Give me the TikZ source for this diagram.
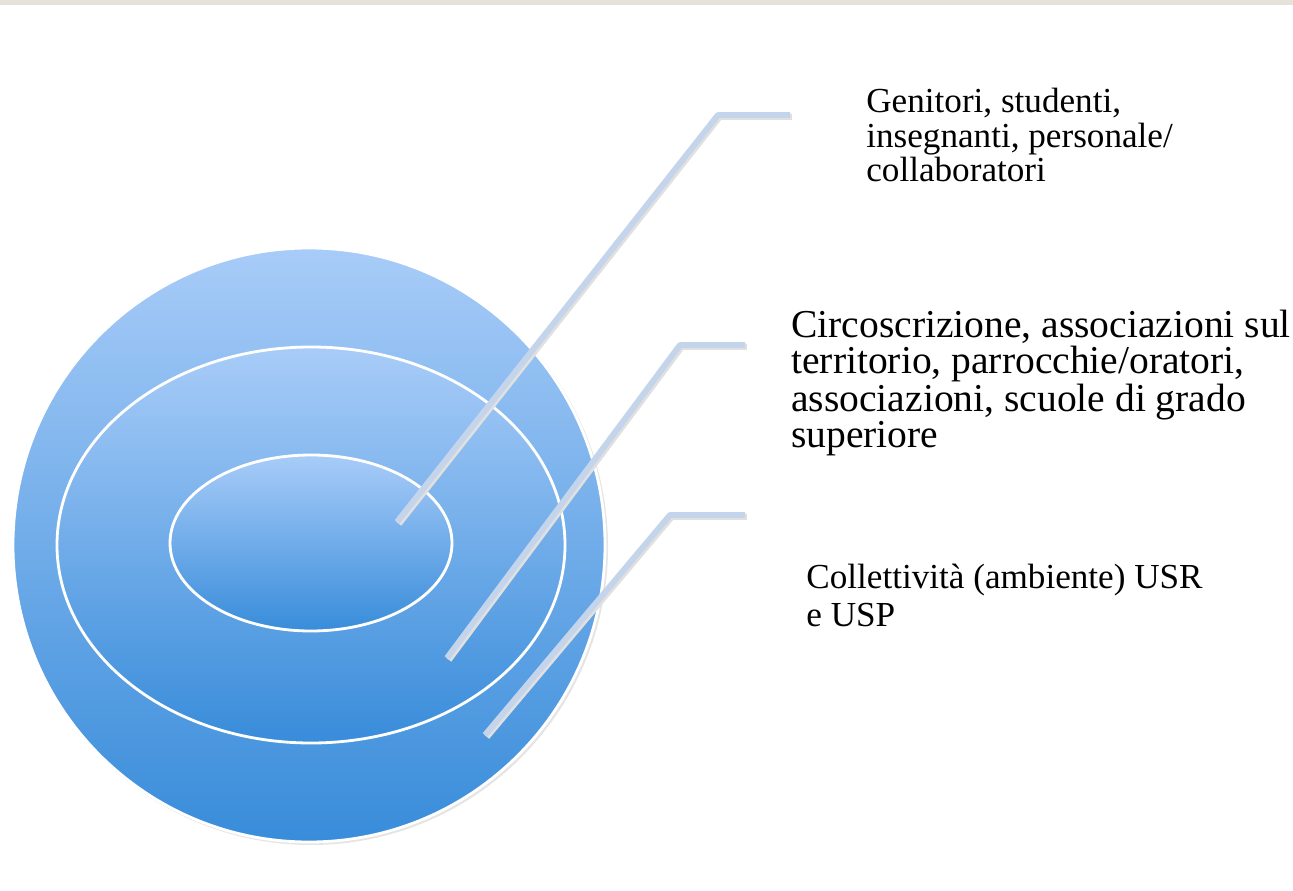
\documentclass[tikz,border=0pt]{standalone}
\usepackage{fontspec}
\setmainfont{Liberation Serif}
\usetikzlibrary{shapes.geometric,positioning}
\definecolor{ringtop}{HTML}{A8CCF8}
\definecolor{ringbot}{HTML}{388CDA}
\definecolor{leader}{HTML}{C4D4EA}
\definecolor{strip}{HTML}{E6E1DA}
\tikzstyle{ring} = [ellipse,draw=white,line width=1.6pt,top color=ringtop,bottom color=ringbot,inner sep=0]
\tikzstyle{leaderline} = [leader,line width=3.4pt,line join=round]
\tikzstyle{leadershadow} = [black!12,line width=3.6pt,line join=round]
\tikzstyle{label} = [anchor=north west,align=left,inner sep=0]
\newlength\pxu
\setlength\pxu{0.02cm}

\begin{document}
\begin{tikzpicture}[x=\pxu,y=-\pxu]
      \useasboundingbox (0,0) rectangle (1293,891);
      \fill[strip] (0,0) rectangle (1293,5);
      % rings
      \node[ellipse,fill=black!10,minimum width=594\pxu,minimum height=596\pxu] at (311,547) {};
      \node[ring,minimum width=592\pxu,minimum height=594\pxu] (outer) at (309,545) {};
      \node[ring,minimum width=508\pxu,minimum height=396\pxu] (middle) at (311,545) {};
      \node[ring,minimum width=282\pxu,minimum height=176\pxu] (inner) at (311,543) {};
      % leader points
      \coordinate (a0) at (397,522);
      \coordinate (a1) at (718,115);
      \coordinate (a2) at (790,115);
      \coordinate (b0) at (447,658);
      \coordinate (b1) at (680,345);
      \coordinate (b2) at (745,345);
      \coordinate (c0) at (485,735);
      \coordinate (c1) at (670,515);
      \coordinate (c2) at (745,515);
      \foreach \p in {a,b,c} {
        \draw[leadershadow,transform canvas={xshift=1pt,yshift=-1pt}] (\p0) -- (\p1) -- (\p2);
        \draw[leaderline] (\p0) -- (\p1) -- (\p2);
      }
      % labels
      \node[label,font=\fontsize{20}{19.6}\selectfont] (school) at (866,88) {Genitori, studenti,\\insegnanti, personale/\\collaboratori};
      \node[label,font=\fontsize{22.5}{20.4}\selectfont] (local) at (791,310) {Circoscrizione, associazioni sul\\territorio, parrocchie/oratori,\\associazioni, scuole di grado\\superiore};
      \node[label,font=\fontsize{20}{21.5}\selectfont] (region) at (806,564) {Collettività (ambiente) USR\\e USP};
    \end{tikzpicture}
\end{document}
